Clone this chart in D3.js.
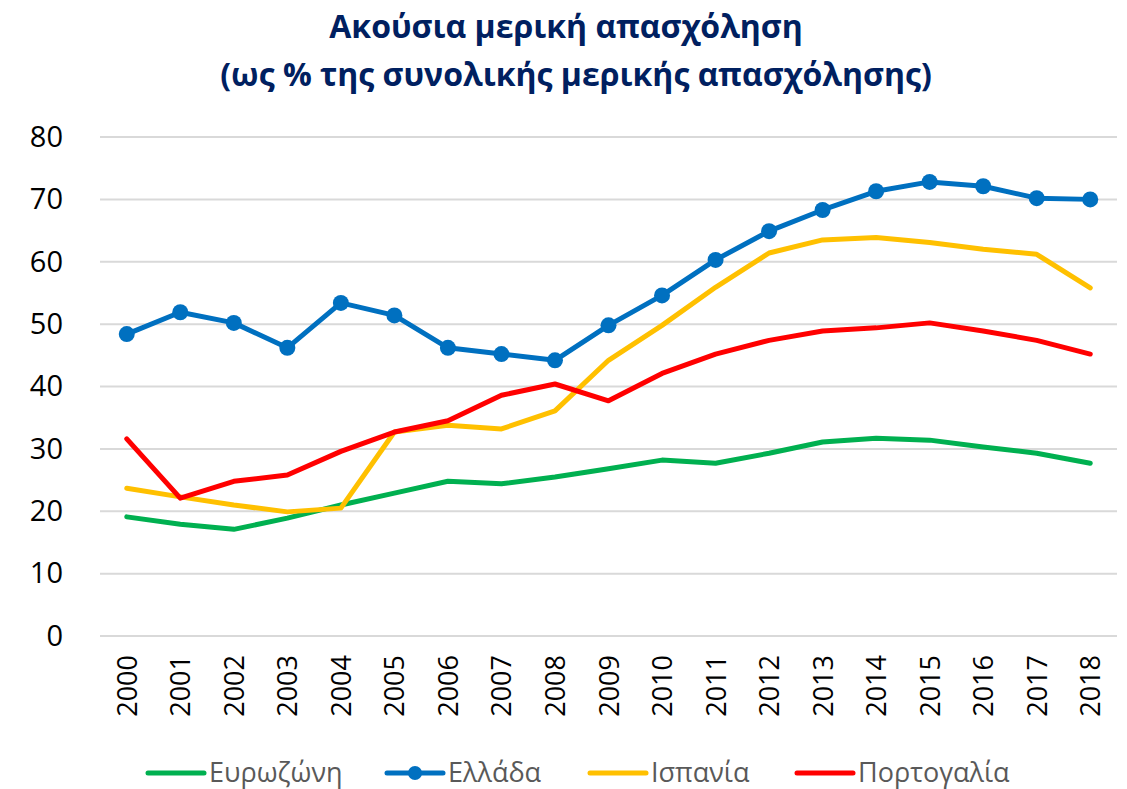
<!DOCTYPE html>
<html>
<head>
<meta charset="utf-8">
<script src="https://cdn.jsdelivr.net/npm/d3@7"></script>
<style>
  body { margin: 0; background: #fff; }
  svg { display: block; font-family: "Open Sans", "Noto Sans", sans-serif; }
</style>
</head>
<body>
<svg id="chart" width="1127" height="789"></svg>
<script>
// data
var years = ["2000","2001","2002","2003","2004","2005","2006","2007","2008","2009",
             "2010","2011","2012","2013","2014","2015","2016","2017","2018"];
var eurozone = [19.1,17.9,17.1,18.9,21.0,22.9,24.8,24.4,25.5,26.8,28.2,27.7,29.3,31.1,31.7,31.4,30.3,29.3,27.7];
var greece   = [48.4,51.9,50.2,46.2,53.4,51.4,46.2,45.2,44.2,49.8,54.6,60.3,64.9,68.3,71.3,72.8,72.1,70.2,70.0];
var spain    = [23.7,22.3,21.0,19.9,20.5,32.7,33.8,33.2,36.1,44.2,49.8,55.9,61.4,63.5,63.9,63.1,62.0,61.2,55.8];
var portugal = [31.6,22.1,24.8,25.8,29.6,32.7,34.5,38.6,40.4,37.7,42.1,45.2,47.4,48.9,49.4,50.2,48.9,47.4,45.2];
var yTicks = [0,10,20,30,40,50,60,70,80];

var series = [
  {name: "Ευρωζώνη", values: eurozone, color: "#00B050", marker: false},
  {name: "Ισπανία", values: spain, color: "#FFC000", marker: false},
  {name: "Πορτογαλία", values: portugal, color: "#FF0000", marker: false},
  {name: "Ελλάδα", values: greece, color: "#0070C0", marker: true}
];
var legendOrder = ["Ευρωζώνη","Ελλάδα","Ισπανία","Πορτογαλία"];

var svg = d3.select("#chart");
var margin = {left: 100, right: 10, top: 137, bottom: 153};
var W = 1127, H = 789;

var x = d3.scaleBand()
    .domain(years)
    .range([margin.left, W - margin.right]);

var y = d3.scaleLinear()
    .domain([0, 80])
    .range([H - margin.bottom, margin.top]);

// title
var title = svg.append("text")
    .attr("text-anchor", "middle")
    .attr("fill", "#002060")
    .attr("font-weight", "bold")
    .attr("font-size", 32);
title.append("tspan").attr("x", 566).attr("y", 38).text("Ακούσια μερική απασχόληση");
title.append("tspan").attr("x", 576).attr("y", 86).text("(ως % της συνολικής μερικής απασχόλησης)");

// gridlines
svg.append("g")
  .selectAll("line")
  .data(yTicks)
  .enter().append("line")
    .attr("x1", x.range()[0])
    .attr("x2", x.range()[1])
    .attr("y1", d => y(d))
    .attr("y2", d => y(d))
    .attr("stroke", "#D9D9D9")
    .attr("stroke-width", 2);

// y axis
var yAxis = svg.append("g")
    .attr("transform", "translate(" + (margin.left - 37) + ",0)")
    .call(d3.axisLeft(y).tickValues(yTicks).tickSize(0).tickPadding(0));
yAxis.select(".domain").remove();
yAxis.selectAll("text")
    .attr("font-size", 29)
    .attr("font-family", "'Open Sans', 'Noto Sans', sans-serif")
    .attr("fill", "#000");

// x axis
var xAxis = svg.append("g")
    .attr("transform", "translate(0," + y(0) + ")")
    .call(d3.axisBottom(x).tickSize(0).tickPadding(0));
xAxis.select(".domain").remove();
xAxis.selectAll("text")
    .attr("font-size", 27)
    .attr("font-family", "'Open Sans', 'Noto Sans', sans-serif")
    .attr("fill", "#000")
    .attr("text-anchor", "end")
    .attr("dy", null)
    .attr("transform", "translate(10,19) rotate(-90)");

// lines
var line = d3.line()
    .x((d, i) => x(years[i]) + x.bandwidth() / 2)
    .y(d => y(d));

series.forEach(function(s) {
  svg.append("path")
      .datum(s.values)
      .attr("fill", "none")
      .attr("stroke", s.color)
      .attr("stroke-width", 5)
      .attr("stroke-linejoin", "round")
      .attr("stroke-linecap", "round")
      .attr("d", line);
  if (s.marker) {
    svg.append("g")
      .selectAll("circle")
      .data(s.values)
      .enter().append("circle")
        .attr("cx", (d, i) => x(years[i]) + x.bandwidth() / 2)
        .attr("cy", d => y(d))
        .attr("r", 8)
        .attr("fill", s.color);
  }
});

// legend
var legendX = [148, 387, 590, 797];
var legend = svg.append("g").attr("transform", "translate(0,773)");
legendOrder.forEach(function(name, i) {
  var s = series.find(d => d.name === name);
  var g = legend.append("g").attr("transform", "translate(" + legendX[i] + ",0)");
  g.append("line")
      .attr("x1", 0).attr("x2", 56)
      .attr("stroke", s.color)
      .attr("stroke-width", 5)
      .attr("stroke-linecap", "round");
  if (s.marker) {
    g.append("circle").attr("cx", 28).attr("r", 7).attr("fill", s.color);
  }
  g.append("text")
      .attr("x", 61)
      .attr("dy", "0.35em")
      .attr("font-size", 27)
      .attr("fill", "#595959")
      .text(name);
});
</script>
</body>
</html>
